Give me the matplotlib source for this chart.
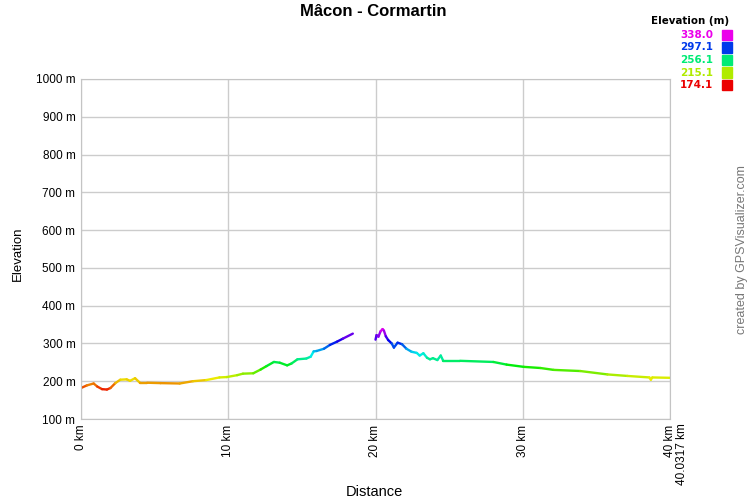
import numpy as np
import matplotlib
matplotlib.use("Agg")
import matplotlib.pyplot as plt
from matplotlib.collections import LineCollection
from matplotlib.colors import hsv_to_rgb

plt.rcParams['font.family'] = ['Liberation Sans', 'DejaVu Sans']

title = "Mâcon - Cormartin"
dist_km = [0.0, 0.4, 0.86, 1.1, 1.43, 1.76, 2.0, 2.33, 2.67, 3.1, 3.33, 3.67, 4.0, 4.5, 5.4, 6.7,
           7.6, 8.5, 9.4, 9.9, 10.6, 11.0, 11.7, 12.2, 12.6, 13.1, 13.5, 14.0, 14.3, 14.7, 15.3,
           15.6, 15.8, 16.0, 16.5, 16.9, 17.4, 17.8, 18.46,
           19.2,
           20.0, 20.07, 20.2, 20.34, 20.48, 20.57, 20.7, 20.86, 21.1, 21.25, 21.5, 21.8, 22.1,
           22.45, 22.8, 23.0, 23.25, 23.5, 23.7, 23.9, 24.2, 24.43, 24.6, 25.75, 28.0, 28.9,
           30.07, 31.2, 32.1, 33.9, 35.75, 37.1, 38.6, 38.7, 38.8, 40.03]
elev_m = [182, 189, 194, 186, 179, 178, 182, 195, 204, 205, 201, 208, 196, 196, 195, 194,
          200, 203, 210, 211, 216, 220, 221, 231, 240, 251, 249, 242, 247, 258, 260,
          265, 279, 280, 286, 296, 305, 313, 326,
          np.nan,
          310, 322, 318, 332, 338, 334, 319, 309, 300, 289, 302, 298, 286,
          278, 275, 268, 274, 262, 258, 261, 256, 268, 254, 254, 251, 244,
          238, 235, 230, 227, 218, 214, 210, 204, 210, 209]
legend_vals = [338.0, 297.1, 256.1, 215.1, 174.1]
y_ticks = [100, 200, 300, 400, 500, 600, 700, 800, 900, 1000]
x_ticks = [0, 10, 20, 30, 40]
x_end = 40.0317

emin, emax = 174.1, 338.0


def ecolor(e, v=0.93):
    h = (e - emin) / (emax - emin) * (300.0 / 360.0)
    return hsv_to_rgb([h, 1.0, v])


fig = plt.figure(figsize=(7.5, 5), dpi=100)
ax = fig.add_axes([81 / 750, 1 - 419 / 500, (670 - 81) / 750, (419 - 79) / 500])

x = np.array(dist_km, dtype=float)
y = np.array(elev_m, dtype=float)
segs, cols = [], []
for i in range(len(x) - 1):
    if np.isnan(y[i]) or np.isnan(y[i + 1]):
        continue
    segs.append([(x[i], y[i]), (x[i + 1], y[i + 1])])
    cols.append(ecolor((y[i] + y[i + 1]) / 2))
lc = LineCollection(segs, colors=cols, linewidths=1.7, capstyle='round', joinstyle='round')
ax.add_collection(lc)

ax.set_xlim(0, 40)
ax.set_ylim(100, 1000)
ax.set_yticks(y_ticks)
ax.set_yticklabels([f"{v} m" for v in y_ticks], fontsize=8.5)
ax.set_xticks(x_ticks)
ax.set_xticklabels([f"{v} km" for v in x_ticks], rotation=90, fontsize=8.5)
ax.grid(True, color='#cccccc', linewidth=1)
ax.tick_params(length=0, pad=4)
for s in ax.spines.values():
    s.set_color('#c4c4c4')
ax.set_axisbelow(True)

fig.text(682 / 750, 1 - 423 / 500, f"{x_end} km", rotation=90, fontsize=8.5,
         ha='center', va='top')

fig.text(373 / 750, 1 - 12 / 500, title, fontsize=12, fontweight='bold', ha='center', va='center')
fig.text(18 / 750, 1 - 254 / 500, "Elevation", fontsize=9.5, rotation=90, ha='center', va='center')
fig.text(374 / 750, 1 - 492 / 500, "Distance", fontsize=10.5, ha='center', va='center')
fig.text(742 / 750, 1 - 250 / 500, "created by GPSVisualizer.com", fontsize=9, rotation=90,
         ha='center', va='center', color='#777777')

fig.text(729 / 750, 1 - 21 / 500, "Elevation (m)", fontsize=7.4, fontweight='bold', ha='right',
         va='center', family=['DejaVu Sans'])
for i, v in enumerate(legend_vals):
    yc = 1 - (35 + i * 12.5) / 500
    c = ecolor(v, 0.92)
    fig.text(713 / 750, yc, f"{v:.1f}", fontsize=7.5, fontweight='bold', color=c, ha='right',
             va='center', family=['DejaVu Sans'])
    fig.patches.append(plt.Rectangle((722 / 750, yc - 5 / 500), 10 / 750, 10 / 500,
                                     transform=fig.transFigure, color=c, figure=fig))

fig.savefig("out.png", dpi=100)
